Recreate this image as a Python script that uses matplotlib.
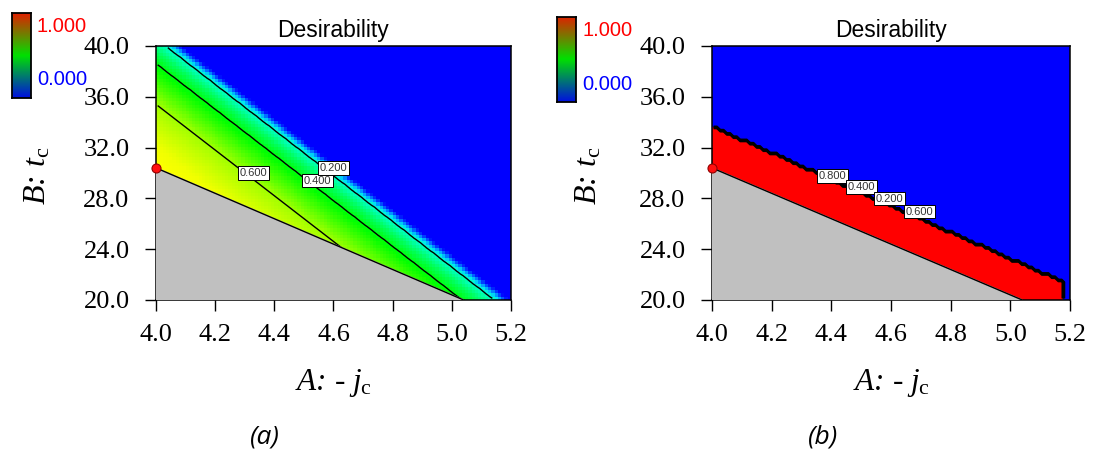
import numpy as np
import matplotlib.pyplot as plt
from matplotlib.colors import LinearSegmentedColormap

# axis ticks
x_ticks = [4.0, 4.2, 4.4, 4.6, 4.8, 5.0, 5.2]
y_ticks = [20.0, 24.0, 28.0, 32.0, 36.0, 40.0]

# grey (infeasible) corner, same for both panels
limit_x = [4.0, 5.04]
limit_y = [30.4, 20.0]
optimum_x = [4.0]
optimum_y = [30.4]

# (a) contour lines are parallel: desirability and B where the line meets A = 4.0
a_slope = -18.0
a_level = [0.9, 0.6, 0.4, 0.2, 0.0]
a_b_at_4 = [30.4, 35.41, 38.64, 40.61, 41.53]
a_labels = ['0.600', '0.400', '0.200']

# (b) desirability is 1 below this edge and 0 above it
b_edge_x = [4.0, 5.18]
b_edge_y = [33.67, 21.38]
b_labels = ['0.800', '0.400', '0.200', '0.600']

W, H = 1096, 461
plt.rcParams['font.family'] = 'Liberation Serif'
plt.rcParams['mathtext.fontset'] = 'custom'
plt.rcParams['mathtext.rm'] = 'Liberation Serif'
plt.rcParams['mathtext.it'] = 'Liberation Serif:italic'

surf_cmap = LinearSegmentedColormap.from_list('dx', [
    (0.0, '#0000ff'), (0.05, '#0040ff'), (0.10, '#00a0ff'), (0.15, '#00e8f0'),
    (0.2, '#00ffc8'), (0.3, '#00ff60'), (0.42, '#00ff00'), (0.6, '#a0ff00'),
    (0.8, '#f0ff00'), (0.9, '#ffff00'), (1.0, '#ff0000')])
bar_cmap = LinearSegmentedColormap.from_list('bar', ['#0010e0', '#00e000', '#e02000'])

# grid
xe = np.linspace(4.0, 5.2, 109)
ye = np.linspace(20.0, 40.0, 79)
xc = (xe[:-1] + xe[1:]) / 2
yc = (ye[:-1] + ye[1:]) / 2
X, Y = np.meshgrid(xc, yc)

u = Y + (-a_slope) * (X - 4.0)
Da = np.interp(u, a_b_at_4, a_level)

edge = np.interp(X, b_edge_x, b_edge_y)
Db = np.where((Y < edge) & (X <= b_edge_x[-1]), 1.0, 0.0)

fig = plt.figure(figsize=(W / 100, H / 100), dpi=100)


def px_axes(l, t, r, b):
    return fig.add_axes([l / W, 1 - b / H, (r - l) / W, (b - t) / H])


def draw_panel(ax, D, levels, labels, label_xy, lw):
    ax.pcolormesh(xe, ye, D, cmap=surf_cmap, vmin=0, vmax=1, shading='flat')
    ax.contour(X, Y, D, levels=levels, colors='black', linewidths=lw)
    ax.fill([limit_x[0], limit_x[1], limit_x[0]], [limit_y[0], limit_y[1], limit_y[1]],
            color='#c0c0c0', zorder=3)
    ax.plot(limit_x, limit_y, color='black', lw=1, zorder=4)
    ax.plot(optimum_x, optimum_y, 'o', ms=6.5, mfc='#ff1010', mec='#900000', mew=0.8,
            clip_on=False, zorder=10)
    for txt, (lx, ly) in zip(labels, label_xy):
        ax.text(lx, ly, txt, family='Liberation Sans', fontsize=8, color='#333333',
                ha='center', va='center', zorder=6,
                bbox=dict(boxstyle='square,pad=0.15', fc='white', ec='black', lw=0.7))
    ax.set_xlim(4.0, 5.2)
    ax.set_ylim(20.0, 40.0)
    ax.set_xticks(x_ticks)
    ax.set_xticklabels(['%.1f' % v for v in x_ticks])
    ax.set_yticks(y_ticks)
    ax.set_yticklabels(['%.1f' % v for v in y_ticks])
    ax.tick_params(axis='both', direction='out', length=8, width=1, labelsize=19)
    ax.tick_params(axis='y', pad=11)
    ax.tick_params(axis='x', pad=9)
    for s in ax.spines.values():
        s.set_linewidth(1.1)


ax1 = px_axes(156, 46, 511, 300)
draw_panel(ax1, Da, [0.2, 0.4, 0.6], a_labels,
           [(4.33, 30.0), (4.545, 29.4), (4.60, 30.4)], 1.0)
ax2 = px_axes(712, 46, 1070, 300)
draw_panel(ax2, Db, [0.2, 0.4, 0.6, 0.8], b_labels,
           [(4.404, 29.77), (4.502, 28.91), (4.595, 27.97), (4.694, 26.95)], 1.3)

# colour bars
for (l, t, r, b), ty1, ty0 in [((12, 13, 31, 98), 27, 79), ((557, 17, 576, 102), 30, 84)]:
    cax = px_axes(l, t, r, b)
    cax.imshow(np.linspace(1, 0, 200)[:, None], aspect='auto', cmap=bar_cmap)
    cax.set_xticks([])
    cax.set_yticks([])
    for s in cax.spines.values():
        s.set_linewidth(1.3)
    fig.text((r + 6) / W, 1 - ty1 / H, '1.000', family='Liberation Sans', fontsize=14.5,
             color='#ff0000', va='center')
    fig.text((r + 6) / W, 1 - ty0 / H, '0.000', family='Liberation Sans', fontsize=14.5,
             color='#0000ff', va='center')

xlab = r'$A$: - $j_{\mathrm{c}}$'
ylab = r'$B$: $t_{\mathrm{c}}$'
for cx, yx, tag in [(333, 38, '(a)'), (891, 589, '(b)')]:
    fig.text(cx / W, 1 - 31 / H, 'Desirability', family='Liberation Sans', fontsize=16.5,
             ha='center', va='center')
    fig.text(cx / W, 1 - 383 / H, xlab, fontsize=22.5, style='italic', ha='center', va='center')
    fig.text(yx / W, 1 - 176 / H, ylab, fontsize=23, style='italic', rotation=90,
             ha='center', va='center')
    fig.text((cx - 68) / W, 1 - 437 / H, tag, family='Open Sans', style='italic',
             fontsize=19, ha='center', va='center')

fig.savefig('out.png', dpi=100)
